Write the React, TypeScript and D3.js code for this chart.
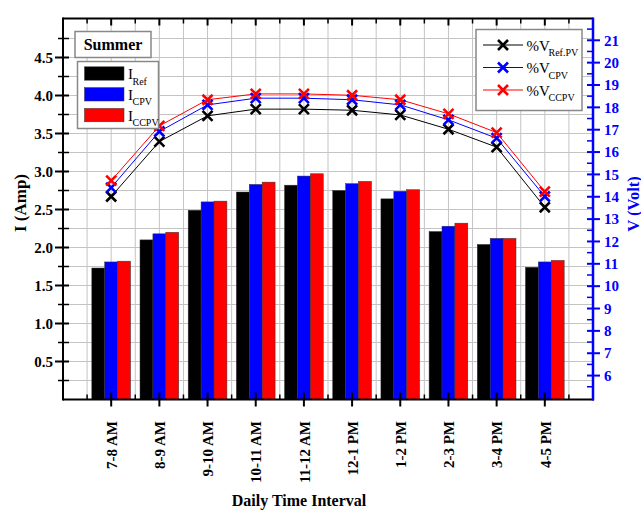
import React from 'react';
import * as d3 from 'd3';

const categories = ['7-8 AM', '8-9 AM', '9-10 AM', '10-11 AM', '11-12 AM', '12-1 PM', '1-2 PM', '2-3 PM', '3-4 PM', '4-5 PM'];
const iRef = [1.73, 2.10, 2.49, 2.73, 2.82, 2.75, 2.64, 2.21, 2.04, 1.74];
const iCPV = [1.81, 2.18, 2.60, 2.83, 2.94, 2.84, 2.74, 2.28, 2.12, 1.81];
const iCCPV = [1.82, 2.20, 2.61, 2.86, 2.97, 2.87, 2.76, 2.32, 2.12, 1.83];
const vRef = [14.01, 16.47, 17.62, 17.92, 17.92, 17.87, 17.66, 17.02, 16.22, 13.53];
const vCPV = [14.41, 16.92, 18.11, 18.41, 18.41, 18.34, 18.11, 17.44, 16.62, 14.01];
const vCCPV = [14.72, 17.17, 18.34, 18.60, 18.60, 18.54, 18.34, 17.71, 16.87, 14.23];
const leftTicks = [0.5, 1.0, 1.5, 2.0, 2.5, 3.0, 3.5, 4.0, 4.5];
const leftMinor = [0.25, 0.75, 1.25, 1.75, 2.25, 2.75, 3.25, 3.75, 4.25, 4.75];
const rightTicks = [6, 7, 8, 9, 10, 11, 12, 13, 14, 15, 16, 17, 18, 19, 20, 21];
const rightMinor = [5.5, 6.5, 7.5, 8.5, 9.5, 10.5, 11.5, 12.5, 13.5, 14.5, 15.5, 16.5, 17.5, 18.5, 19.5, 20.5, 21.5];

const barSeries = [
  { values: iRef, color: '#000000' },
  { values: iCPV, color: '#0000ff' },
  { values: iCCPV, color: '#ff0000' },
];
const lineSeries = [
  { values: vRef, color: '#000000', sub: 'Ref.PV' },
  { values: vCPV, color: '#0000ff', sub: 'CPV' },
  { values: vCCPV, color: '#ff0000', sub: 'CCPV' },
];
const barLegend = [
  { color: '#000000', sub: 'Ref' },
  { color: '#0000ff', sub: 'CPV' },
  { color: '#ff0000', sub: 'CCPV' },
];

const L = 63, R = 593, T = 18.5, B = 399.5;
const FONT = '"Liberation Serif", "Times New Roman", serif';

export default function App() {
  const x = d3.scaleLinear().domain([-1, categories.length]).range([L, R]);
  const yL = d3.scaleLinear().domain([0, 5]).range([B, 19.5]);
  const yR = d3.scaleLinear().domain([4.93, 21.93]).range([B, 19.5]);
  const bw = 12.9;
  const halfSteps = d3.range(-0.5, categories.length + 0.01, 0.5).filter((v) => v > -1 && v < categories.length);
  const gridY = d3.range(0.25, 5, 0.25);
  const line = (vals: number[]) =>
    d3.line<number>().x((_, i) => x(i)).y((v) => yR(v))(vals) || '';
  const X = (cx: number, cy: number, color: string, key: string) => (
    <path key={key} d={`M${cx - 5},${cy - 5}L${cx + 5},${cy + 5}M${cx - 5},${cy + 5}L${cx + 5},${cy - 5}`}
      stroke={color} strokeWidth={2.6} fill="none" />
  );

  return (
    <svg width={641} height={512} style={{ position: 'absolute', left: 0, top: 0, background: '#fff' }}
      fontFamily={FONT}>
      <rect x={0} y={0} width={641} height={512} fill="#fff" />
      {/* grid */}
      <g stroke="#c4c4c4" strokeWidth={1}>
        {halfSteps.map((v, i) => <line key={'gv' + i} x1={x(v)} x2={x(v)} y1={T} y2={B} />)}
        {gridY.map((v, i) => <line key={'gh' + i} x1={L} x2={R} y1={yL(v)} y2={yL(v)} />)}
      </g>
      {/* bars */}
      {barSeries.map((s, si) =>
        s.values.map((v, i) => (
          <rect key={`b${si}-${i}`} x={x(i) - 1.5 * bw + si * bw} y={yL(v)} width={bw} height={B - yL(v)}
            fill={s.color} stroke="#333" strokeWidth={0.5} />
        ))
      )}
      {/* lines */}
      {lineSeries.map((s, si) => (
        <path key={'l' + si} d={line(s.values)} fill="none" stroke={s.color} strokeWidth={1} />
      ))}
      {lineSeries.map((s, si) => s.values.map((v, i) => X(x(i), yR(v), s.color, `m${si}-${i}`)))}

      {/* frame & axes */}
      <line x1={L} x2={R} y1={T} y2={T} stroke="#000" strokeWidth={2} />
      <line x1={L} x2={R + 1} y1={B} y2={B} stroke="#000" strokeWidth={2} />
      <line x1={L} x2={L} y1={T - 1} y2={B + 1} stroke="#000" strokeWidth={2} />
      <line x1={R} x2={R} y1={T - 1} y2={B + 1} stroke="#0000ff" strokeWidth={2.5} />
      {/* x ticks */}
      {categories.map((c, i) => (
        <g key={'xt' + i}>
          <line x1={x(i)} x2={x(i)} y1={B - 7} y2={B + 7} stroke="#000" strokeWidth={2} />
          <line x1={x(i)} x2={x(i)} y1={T} y2={T + 7} stroke="#000" strokeWidth={2} />
          <text transform={`translate(${x(i) + 0.5},421) rotate(-90)`} textAnchor="end" dy="0.35em"
            fontSize={15} fontWeight="bold">{c}</text>
        </g>
      ))}
      {halfSteps.filter((v) => !Number.isInteger(v)).map((v, i) => (
        <g key={'xm' + i}>
          <line x1={x(v)} x2={x(v)} y1={B - 5} y2={B} stroke="#000" strokeWidth={1.5} />
          <line x1={x(v)} x2={x(v)} y1={T} y2={T + 5} stroke="#000" strokeWidth={1.5} />
        </g>
      ))}
      {/* left ticks */}
      {leftTicks.map((v, i) => (
        <g key={'lt' + i}>
          <line x1={L - 8} x2={L + 6} y1={yL(v)} y2={yL(v)} stroke="#000" strokeWidth={2} />
          <text x={L - 10} y={yL(v)} dy="0.35em" textAnchor="end" fontSize={15} fontWeight="bold">{v.toFixed(1)}</text>
        </g>
      ))}
      {leftMinor.map((v, i) => (
        <line key={'lm' + i} x1={L - 5} x2={L + 6} y1={yL(v)} y2={yL(v)} stroke="#000" strokeWidth={1.5} />
      ))}
      {/* right ticks */}
      {rightTicks.map((v, i) => (
        <g key={'rt' + i}>
          <line x1={R - 6} x2={R + 7} y1={yR(v)} y2={yR(v)} stroke="#0000ff" strokeWidth={2} />
          <text x={R + 11} y={yR(v)} dy="0.35em" textAnchor="start" fontSize={15} fontWeight="bold" fill="#0000ff">{v}</text>
        </g>
      ))}
      {rightMinor.map((v, i) => (
        <line key={'rm' + i} x1={R - 6} x2={R + 1} y1={yR(v)} y2={yR(v)} stroke="#0000ff" strokeWidth={1.5} />
      ))}
      {/* axis titles */}
      <text transform="translate(26,203) rotate(-90)" textAnchor="middle" fontSize={17} fontWeight="bold">I (Amp)</text>
      <text transform="translate(638.5,204) rotate(-90)" textAnchor="middle" fontSize={16.5} fontWeight="bold" fill="#0000ff">V (Volt)</text>
      <text x={299} y={506} textAnchor="middle" fontSize={16} fontWeight="bold">Daily Time Interval</text>

      {/* Summer box */}
      <rect x={75} y={31.5} width={76} height={26} fill="#fff" stroke="#888" strokeWidth={1.5} />
      <text x={113} y={50} textAnchor="middle" fontSize={16} fontWeight="bold">Summer</text>
      {/* bar legend */}
      <rect x={77.5} y={61.5} width={81} height={67} fill="#fff" stroke="#888" strokeWidth={1.5} />
      {barLegend.map((b, i) => {
        const cy = 73.5 + i * 20.8;
        return (
          <g key={'bl' + i}>
            <rect x={84.5} y={cy - 6.7} width={39.5} height={13.4} fill={b.color} stroke="#333" strokeWidth={0.5} />
            <text x={128} y={cy + 5.5} fontSize={15}>I</text>
            <text x={132.5} y={cy + 11} fontSize={10}>{b.sub}</text>
          </g>
        );
      })}
      {/* line legend */}
      <rect x={476} y={29.5} width={106} height={81} fill="#fff" stroke="#888" strokeWidth={1.5} />
      {lineSeries.map((s, i) => {
        const cy = 45 + i * 22.5;
        return (
          <g key={'ll' + i}>
            <line x1={483} x2={523} y1={cy} y2={cy} stroke={s.color} strokeWidth={1} />
            {X(503, cy, s.color, 'lm' + i)}
            <text x={526.5} y={cy + 5.5} fontSize={15}>%V</text>
            <text x={548.5} y={cy + 11} fontSize={10}>{s.sub}</text>
          </g>
        );
      })}
    </svg>
  );
}
